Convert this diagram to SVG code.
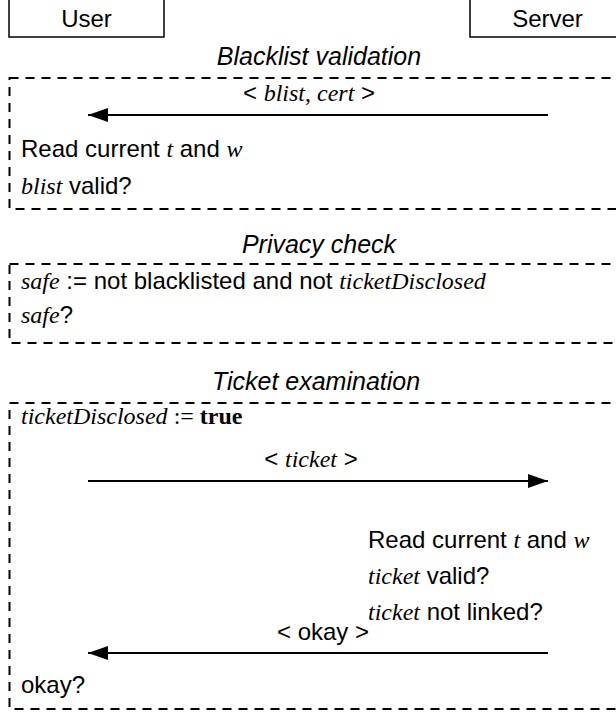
<svg xmlns="http://www.w3.org/2000/svg" width="616" height="715" viewBox="0 0 616 715">
  <style>
    text { font-family: "Liberation Sans", Arial, sans-serif; font-size: 24px; fill: #000; }
    .title { font-style: italic; font-size: 25px; text-anchor: middle; }
    .mid { text-anchor: middle; }
    .m { font-family: "Liberation Serif", "Times New Roman", serif; font-style: italic; }
    .r { font-family: "Liberation Serif", "Times New Roman", serif; }
    .b { font-family: "Liberation Serif", "Times New Roman", serif; font-weight: bold; }
    .actor { fill: #fff; stroke: #000; stroke-width: 1.5; }
    .frame { fill: none; stroke: #000; stroke-width: 2; stroke-dasharray: 9 7; }
    .msg { fill: none; stroke: #000; stroke-width: 2; marker-end: url(#head); }
  </style>
  <defs>
    <marker id="head" viewBox="0 0 20 14" refX="20" refY="7" markerWidth="20" markerHeight="14" markerUnits="userSpaceOnUse" orient="auto">
      <path d="M0,0 L20,7 L0,14 Z" fill="#000"/>
    </marker>
  </defs>

  <!-- participants -->
  <g id="user">
    <rect class="actor" x="9" y="-2" width="155" height="39"/>
    <text class="mid" x="86.5" y="27">User</text>
  </g>
  <g id="server">
    <rect class="actor" x="470" y="-2" width="155" height="39"/>
    <text class="mid" x="547.5" y="27">Server</text>
  </g>

  <!-- phase 1: blacklist validation -->
  <g id="blacklist-validation">
    <text class="title" x="319" y="65">Blacklist validation</text>
    <rect class="frame" x="9.5" y="78" width="630" height="131"/>
    <text class="mid" x="309" y="101">&lt; <tspan class="m">blist</tspan><tspan class="r">, </tspan><tspan class="m">cert</tspan> &gt;</text>
    <text x="21" y="157">Read current <tspan class="m">t</tspan> and <tspan class="m">w</tspan></text>
    <text x="21" y="194"><tspan class="m">blist</tspan> valid?</text>
  </g>

  <!-- phase 2: privacy check -->
  <g id="privacy-check">
    <text class="title" x="319" y="253">Privacy check</text>
    <rect class="frame" x="9.5" y="264" width="630" height="79"/>
    <text x="21" y="289"><tspan class="m">safe</tspan> := not blacklisted and not <tspan class="m">ticketDisclosed</tspan></text>
    <text x="21" y="323"><tspan class="m">safe</tspan>?</text>
  </g>

  <!-- phase 3: ticket examination -->
  <g id="ticket-examination">
    <text class="title" x="316" y="390">Ticket examination</text>
    <rect class="frame" x="9.5" y="403" width="630" height="306"/>
    <text x="21" y="424"><tspan class="m">ticketDisclosed</tspan><tspan class="r"> := </tspan><tspan class="b">true</tspan></text>
    <text class="mid" x="311" y="467">&lt; <tspan class="m">ticket</tspan> &gt;</text>
    <text x="368" y="548">Read current <tspan class="m">t</tspan> and <tspan class="m">w</tspan></text>
    <text x="368" y="584"><tspan class="m">ticket</tspan> valid?</text>
    <text x="368" y="620"><tspan class="m">ticket</tspan> not linked?</text>
    <text class="mid" x="323" y="640">&lt; okay &gt;</text>
    <text x="21" y="693">okay?</text>
  </g>

  <!-- messages -->
  <g id="connectors">
    <line class="msg" x1="548" y1="115" x2="88" y2="115"/>
    <line class="msg" x1="88" y1="481" x2="548" y2="481"/>
    <line class="msg" x1="548" y1="653" x2="88" y2="653"/>
  </g>
</svg>
